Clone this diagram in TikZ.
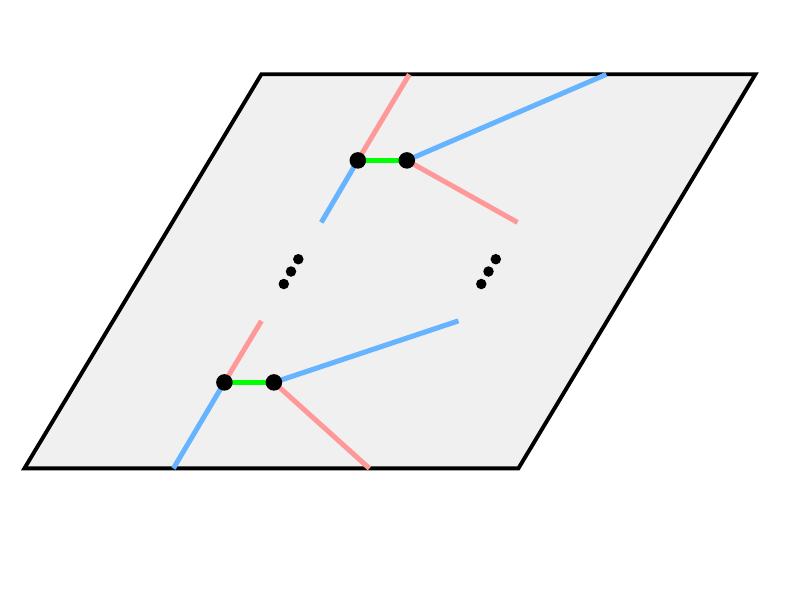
\documentclass[tikz,border=0pt]{standalone}
\definecolor{sheetgray}{HTML}{F0F0F0}
\definecolor{linepink}{HTML}{FF9999}
\definecolor{lineblue}{HTML}{66B3FF}
\definecolor{linegreen}{HTML}{00FF00}
\tikzset{
  junction/.style={circle,fill=black,inner sep=0pt,minimum size=16.5pt},
  dotmark/.style={circle,fill=black,inner sep=0pt,minimum size=10.5pt},
  sheet/.style={draw=black,line width=3.9pt,fill=sheetgray,line join=miter},
  pinkline/.style={draw=linepink,line width=5pt},
  blueline/.style={draw=lineblue,line width=5pt},
  greenline/.style={draw=linegreen,line width=5pt}
}
\begin{document}
\begin{tikzpicture}[x=1pt,y=-1pt]
\useasboundingbox (0,0) rectangle (789,592);
\draw[sheet] (24.4,468.4) -- (518.4,468.4) -- (755.4,74.2) -- (261.4,74.2) -- cycle;
% junction positions
\coordinate (a) at (357.8,160.4);
\coordinate (b) at (406.8,160.4);
\coordinate (a1) at (409.3,74.4);
\coordinate (a2) at (321.3,222.4);
\coordinate (b1) at (606.3,74.4);
\coordinate (b2) at (517.5,222.4);
\coordinate (c) at (224.4,382.4);
\coordinate (d) at (273.9,382.4);
\coordinate (c1) at (261.4,320.9);
\coordinate (c2) at (173.4,468.4);
\coordinate (d1) at (458.4,320.9);
\coordinate (d2) at (369.4,468.4);
% connectors
\draw[pinkline] (a) -- (a1);
\draw[blueline] (a) -- (a2);
\draw[blueline] (b) -- (b1);
\draw[pinkline] (b) -- (b2);
\draw[greenline] (a) -- (b);
\draw[pinkline] (c) -- (c1);
\draw[blueline] (c) -- (c2);
\draw[blueline] (d) -- (d1);
\draw[pinkline] (d) -- (d2);
\draw[greenline] (c) -- (d);
% junctions on top
\node[junction] (na) at (a) {};
\node[junction] (nb) at (b) {};
\node[junction] (nc) at (c) {};
\node[junction] (nd) at (d) {};
\node[dotmark] (p1) at (298.3,259.2) {};
\node[dotmark] (p2) at (291,271.5) {};
\node[dotmark] (p3) at (283.8,284) {};
\node[dotmark] (q1) at (495.8,259.2) {};
\node[dotmark] (q2) at (488.5,271.5) {};
\node[dotmark] (q3) at (481.3,284) {};
\end{tikzpicture}
\end{document}
